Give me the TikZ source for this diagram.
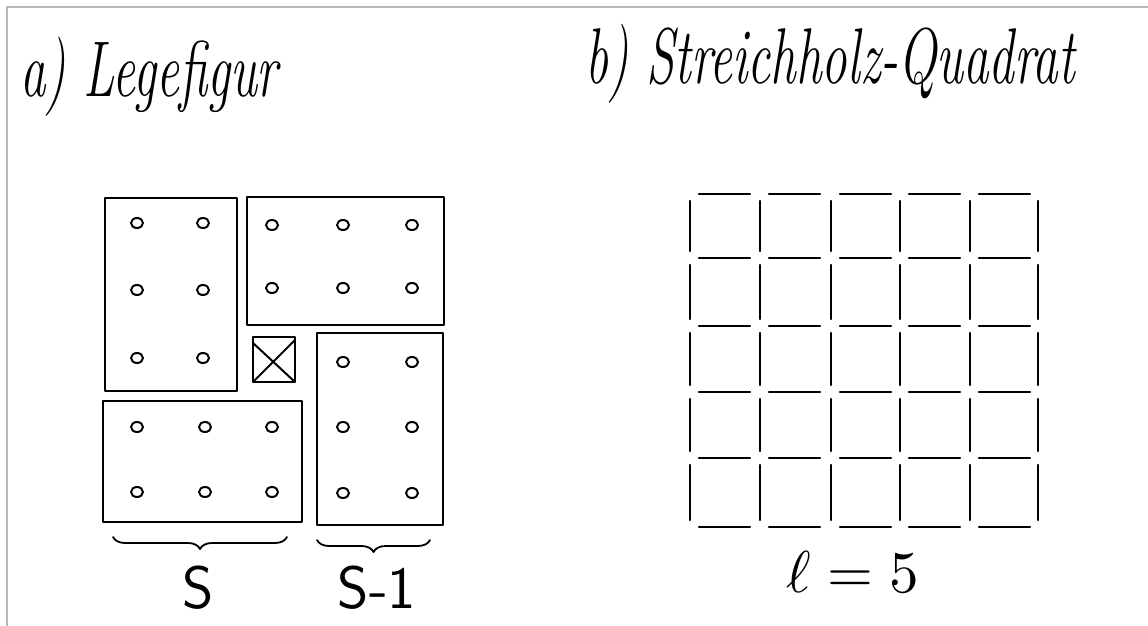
\documentclass[tikz,border=0pt]{standalone}
\usetikzlibrary{decorations.pathreplacing}
\begin{document}
\begin{tikzpicture}[x=1pt,y=-1pt,line cap=round,line join=round,
  frame/.style={draw=black,line width=2.4pt},
  pebble/.style={draw=black,line width=2pt},
  stick/.style={draw=black,line width=2.4pt},
  title/.style={font=\fontsize{51}{51}\selectfont\itshape,anchor=base west,inner sep=0pt,yscale=1.55},
  lab/.style={font=\fontsize{60}{60}\selectfont\sffamily,anchor=base,inner sep=0pt},
  brc/.style={draw=black,line width=1.8pt,decorate,decoration={brace,amplitude=12pt,mirror}}]
\useasboundingbox (0,0) rectangle (1148,626);
\fill[white] (0,0) rectangle (1148,626);
\draw[gray!55,line width=1.5pt] (7,626) -- (7,7) -- (1148,7);

% titles
\node[title] (ta) at (20,96) {a) Legefigur};
\node[title] (tb) at (585,84) {b) Streichholz-Quadrat};

% ---- a) Legefigur ----
\draw[frame] (105,198) rectangle (237,391);
\draw[frame] (247,197) rectangle (444,325);
\draw[frame] (317,333) rectangle (443,525);
\draw[frame] (103,401) rectangle (302,522);
% small crossed square
\draw[frame,line width=2pt] (253,337) rectangle (295,382);
\draw[frame,line width=2pt] (253,343) -- (295,382);
\draw[frame,line width=2pt] (253,382) -- (295,340);

% pebbles
\foreach \x in {137,203}{\foreach \y in {223,290,358}{\draw[pebble] (\x,\y) ellipse [x radius=6pt,y radius=5pt];}}
\foreach \x in {272,343,412}{\foreach \y in {225,288}{\draw[pebble] (\x,\y) ellipse [x radius=6pt,y radius=5pt];}}
\foreach \x in {343,412}{\foreach \y in {362,427,493}{\draw[pebble] (\x,\y) ellipse [x radius=6pt,y radius=5pt];}}
\foreach \x in {137,205,272}{\foreach \y in {427,492}{\draw[pebble] (\x,\y) ellipse [x radius=6pt,y radius=5pt];}}

% braces
\coordinate (b1l) at (113,537);
\coordinate (b1r) at (287,537);
\coordinate (b2l) at (317,540);
\coordinate (b2r) at (430,540);
\draw[brc] (b1l) -- (b1r);
\draw[brc] (b2l) -- (b2r);
\node[lab] (s1) at (198,608) {S};
\node[lab] (s2) at (377,608) {S-1};

% ---- b) Streichholz-Quadrat ----
\foreach \xx in {690,760,831,900,970,1038}{
  \foreach \ya/\yb in {201/251,265/319,333/385,399/451,465/520}{
    \draw[stick] (\xx,\ya) -- (\xx,\yb);
  }
}
\foreach \yy in {194,258,326,392,458,527}{
  \foreach \xa in {699,769,840,909,979}{
    \draw[stick] (\xa,\yy) -- ++(51,0);
  }
}
\node[scale=5.9,anchor=base,inner sep=0pt] (l5) at (853,592) {$\ell = 5$};
\end{tikzpicture}
\end{document}
